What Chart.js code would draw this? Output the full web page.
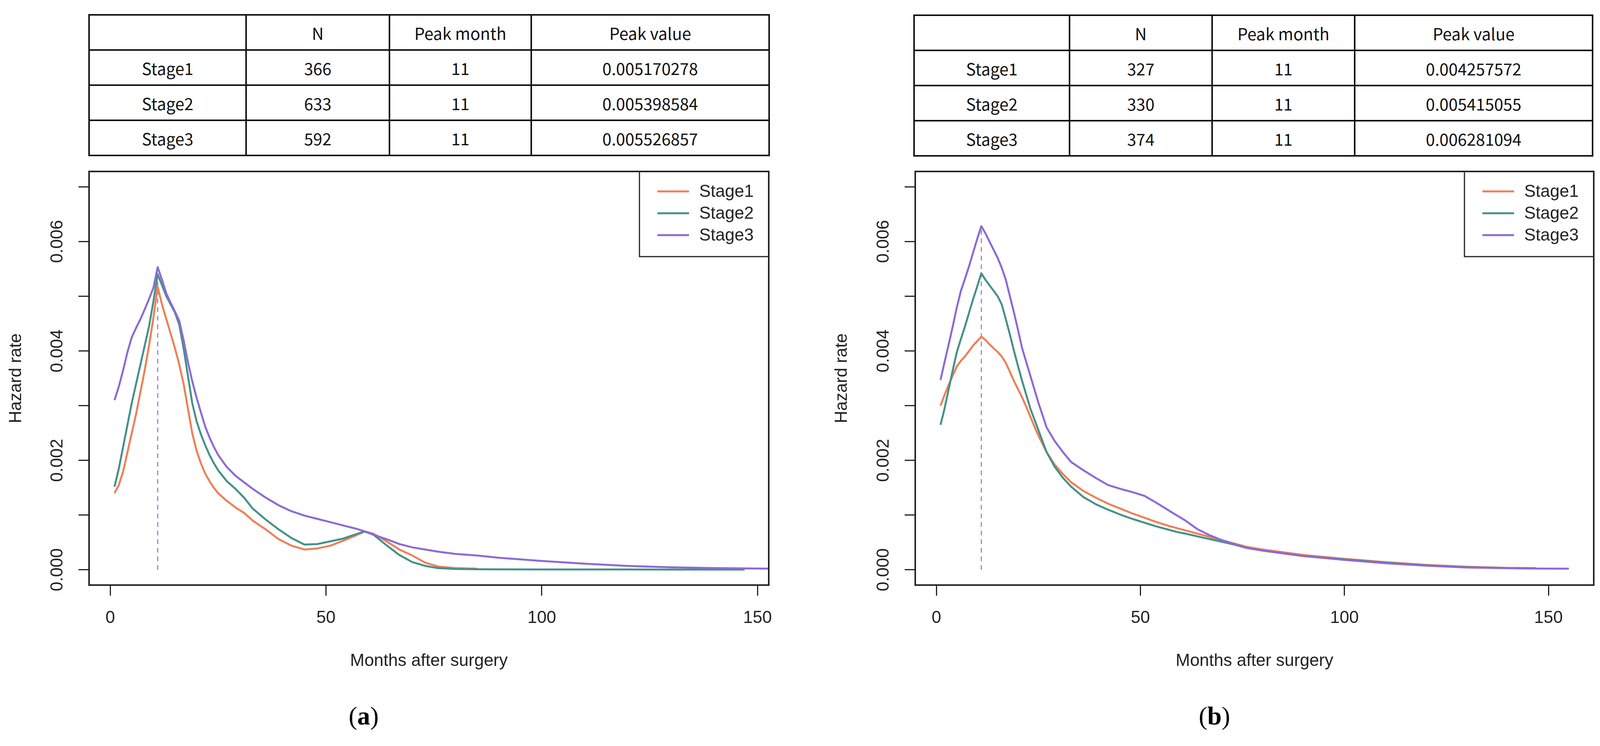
<!DOCTYPE html>
<html>
<head>
<meta charset="utf-8">
<script src="https://cdn.jsdelivr.net/npm/chart.js@4.4.1/dist/chart.umd.min.js"></script>
<style>
  body { margin: 0; background: #fff; width: 4115px; height: 1910px; position: relative; overflow: hidden; }
  .tbl { position: absolute; display: grid; gap: 4px; padding: 4px; background: #111; }
  .tbl div { background: #fff; display: flex; align-items: center; justify-content: center;
             font-family: "Noto Sans CJK KR", "Noto Sans"; font-size: 42px; color: #111; }
  canvas { position: absolute; }
  .cap { position: absolute; font-family: "Liberation Serif"; font-size: 66px; transform: translateX(-50%); }
</style>
</head>
<body>
<div id="tblA" class="tbl"></div>
<div id="tblB" class="tbl"></div>
<canvas id="chartA" width="2058" height="1400"></canvas>
<canvas id="chartB" width="2057" height="1400"></canvas>
<div class="cap" style="left:931px; top:1795px;">(<b>a</b>)</div>
<div class="cap" style="left:3109px; top:1795px;">(<b>b</b>)</div>

<script>
// ---- table data ----
const stageNames = ['Stage1', 'Stage2', 'Stage3'];
const tableHeader = ['', 'N', 'Peak month', 'Peak value'];
const nA = [366, 633, 592];
const peakMonthA = [11, 11, 11];
const peakValueA = [0.005170278, 0.005398584, 0.005526857];
const nB = [327, 330, 374];
const peakMonthB = [11, 11, 11];
const peakValueB = [0.004257572, 0.005415055, 0.006281094];

// ---- hazard curves, panel (a) ----
const monthsA = [1,2,3,4,5,6,7,8,9,10,11,12,13,14,15,16,17,18,19,20,21,22,23,24,25,27,29,31,33,36,39,42,45,48,51,54,57,59,61,64,67,70,73,76,80,85,90,100,110,120,130,140,147,153];
const stage1A = [0.00140,0.00155,0.00180,0.00215,0.00250,0.00285,0.00325,0.00365,0.00410,0.00460,0.00517,0.00485,0.00458,0.00432,0.00405,0.00375,0.00340,0.00295,0.00250,0.00218,0.00195,0.00176,0.00162,0.00150,0.00140,0.00126,0.00114,0.00104,0.00090,0.00074,0.00056,0.00044,0.00037,0.00039,0.00044,0.00053,0.00063,0.00070,0.00066,0.00052,0.00037,0.00026,0.00013,0.00006,0.00003,0.00002,null,null,null,null,null,null,null,null];
const stage2A = [0.00152,0.00185,0.00225,0.00265,0.00305,0.00340,0.00375,0.00410,0.00445,0.00490,0.00540,0.00520,0.00500,0.00485,0.00470,0.00448,0.00405,0.00355,0.00305,0.00272,0.00248,0.00228,0.00210,0.00195,0.00182,0.00162,0.00148,0.00132,0.00112,0.00092,0.00074,0.00058,0.00046,0.00047,0.00052,0.00057,0.00065,0.00070,0.00064,0.00045,0.00027,0.00014,0.00007,0.00003,0.000015,0.00001,0.000008,0.000006,0.000005,0.000005,0.000004,0.000004,0.000004,null];
const stage3A = [0.00310,0.00335,0.00365,0.00398,0.00425,0.00442,0.00458,0.00476,0.00495,0.00515,0.00553,0.00530,0.00505,0.00488,0.00472,0.00455,0.00420,0.00380,0.00345,0.00315,0.00288,0.00262,0.00242,0.00225,0.00210,0.00188,0.00172,0.00160,0.00148,0.00132,0.00118,0.00107,0.00099,0.00093,0.00087,0.00081,0.00075,0.00070,0.00064,0.00056,0.00047,0.00041,0.00037,0.00033,0.00029,0.00026,0.00022,0.00016,0.00011,0.00007,0.000045,0.00003,0.000025,0.00002];

// ---- hazard curves, panel (b) ----
const monthsB = [1,2,3,4,5,6,7,8,9,10,11,12,13,14,15,16,17,18,19,20,21,22,23,24,25,27,29,31,33,36,39,42,45,48,51,54,57,59,61,64,67,70,73,76,80,85,90,100,110,120,130,140,147,155];
const stage1B = [0.00300,0.00320,0.00338,0.00355,0.00372,0.00382,0.00390,0.00400,0.00410,0.00418,0.00426,0.00420,0.00412,0.00405,0.00398,0.00390,0.00378,0.00362,0.00345,0.00330,0.00315,0.00298,0.00280,0.00262,0.00245,0.00215,0.00192,0.00175,0.00160,0.00144,0.00132,0.00121,0.00112,0.00103,0.00095,0.00087,0.00080,0.00076,0.00072,0.00066,0.00060,0.00054,0.00048,0.00042,0.00037,0.00032,0.00027,0.00020,0.00014,0.00009,0.000055,0.000035,0.00003,null];
const stage2B = [0.00265,0.00295,0.00330,0.00365,0.00398,0.00422,0.00445,0.00470,0.00495,0.00518,0.00542,0.00530,0.00520,0.00510,0.00500,0.00485,0.00458,0.00430,0.00400,0.00372,0.00345,0.00320,0.00295,0.00275,0.00255,0.00215,0.00188,0.00168,0.00152,0.00133,0.00120,0.00110,0.00101,0.00093,0.00086,0.00079,0.00073,0.00069,0.00066,0.00061,0.00056,0.00051,0.00046,0.00040,0.00035,0.00030,0.00025,0.00019,0.00013,0.00008,0.000046,0.00003,0.000025,null];
const stage3B = [0.00347,0.00380,0.00412,0.00445,0.00480,0.00510,0.00532,0.00555,0.00580,0.00605,0.00628,0.00615,0.00600,0.00585,0.00570,0.00552,0.00530,0.00500,0.00470,0.00438,0.00405,0.00380,0.00355,0.00330,0.00305,0.00260,0.00235,0.00215,0.00197,0.00182,0.00168,0.00155,0.00148,0.00142,0.00135,0.00122,0.00108,0.00099,0.00090,0.00074,0.00063,0.00054,0.00047,0.00040,0.00035,0.00030,0.00025,0.00018,0.00012,0.000075,0.000042,0.000028,0.000022,0.00002];

const stageColors = ['#EF7F55', '#45918A', '#8B6BD6'];
const yTicks = [0, 0.002, 0.004, 0.006];

function buildTable(id, left, top, colW, ns, months, peaks) {
  const el = document.getElementById(id);
  el.style.left = left + 'px';
  el.style.top = top + 'px';
  el.style.gridTemplateColumns = colW.map(w => w + 'px').join(' ');
  el.style.gridTemplateRows = 'repeat(4, 86px)';
  const rows = [tableHeader].concat(stageNames.map((s, i) => [s, ns[i], months[i], peaks[i].toFixed(9)]));
  rows.forEach(r => r.forEach(c => {
    const d = document.createElement('div');
    d.textContent = c;
    el.appendChild(d);
  }));
}
buildTable('tblA', 226, 36, [398, 363, 359, 605], nA, peakMonthA, peakValueA);
buildTable('tblB', 2338, 37, [394, 361, 361, 605], nB, peakMonthB, peakValueB);

const rPlot = {
  id: 'rPlot',
  afterDraw(chart) {
    const {ctx, chartArea: a} = chart;
    const ys = chart.scales.y;
    ctx.save();
    ctx.strokeStyle = '#222';
    ctx.lineWidth = 4;
    ctx.strokeRect(a.left, a.top, a.right - a.left, a.bottom - a.top);

    // y tick labels, rotated like R
    ctx.font = '44px "Liberation Sans"';
    ctx.fillStyle = '#222';
    ctx.textAlign = 'center';
    ctx.textBaseline = 'middle';
    yTicks.forEach(v => {
      ctx.save();
      ctx.translate(a.left - 80, ys.getPixelForValue(v));
      ctx.rotate(-Math.PI / 2);
      ctx.fillText(v.toFixed(3), 0, 0);
      ctx.restore();
    });

    // legend box
    const bx = a.right - 331, by = a.top;
    ctx.lineWidth = 3;
    ctx.strokeRect(bx, by, 331, 218);
    ctx.textAlign = 'left';
    stageNames.forEach((s, i) => {
      const ly = by + 51 + i * 56;
      ctx.strokeStyle = stageColors[i];
      ctx.lineWidth = 5;
      ctx.beginPath();
      ctx.moveTo(bx + 46, ly);
      ctx.lineTo(bx + 127, ly);
      ctx.stroke();
      ctx.fillStyle = '#222';
      ctx.fillText(s, bx + 153, ly + 2);
    });
    ctx.restore();
  }
};

function makeChart(id, months, series, peaks, peakMonths, xMax, padding, yWidth) {
  const toPts = vals => months.map((m, i) => ({x: m, y: vals[i]})).filter(p => p.y !== null);
  const datasets = series.map((vals, i) => ({
    label: stageNames[i],
    data: toPts(vals),
    borderColor: stageColors[i],
    borderWidth: 5,
    pointRadius: 0,
    tension: 0,
    borderJoinStyle: 'round',
    order: 3 - i
  }));
  datasets.push({
    label: 'peak',
    data: [{x: peakMonths[0], y: 0}, {x: peakMonths[0], y: Math.max(...peaks)}],
    borderColor: '#9588D2',
    borderWidth: 3,
    borderDash: [12, 10],
    pointRadius: 0,
    order: 5
  });

  const tickFont = {family: 'Liberation Sans', size: 44};
  new Chart(document.getElementById(id), {
    type: 'line',
    data: {datasets},
    plugins: [rPlot],
    options: {
      responsive: false,
      animation: false,
      devicePixelRatio: 1,
      layout: {padding},
      plugins: {legend: {display: false}, tooltip: {enabled: false}},
      scales: {
        x: {
          type: 'linear',
          min: xMax[0], max: xMax[1],
          border: {display: false},
          grid: {drawOnChartArea: false, tickLength: 27, tickWidth: 3, tickColor: '#222'},
          ticks: {stepSize: 50, includeBounds: false, autoSkip: false, maxRotation: 0,
                  padding: 31, color: '#222', font: tickFont},
          title: {display: true, text: 'Months after surgery', color: '#222', font: tickFont,
                  padding: {top: 0, bottom: 0}},
          afterFit: s => { s.height = 221; }
        },
        y: {
          type: 'linear',
          min: -0.00028, max: 0.00728,
          border: {display: false},
          grid: {drawOnChartArea: false, tickLength: 27, tickWidth: 3, tickColor: '#222'},
          ticks: {stepSize: 0.001, includeBounds: false, autoSkip: false, callback: () => ''},
          title: {display: true, text: 'Hazard rate', color: '#222', font: tickFont,
                  padding: {top: 15, bottom: 0}},
          afterFit: s => { s.width = yWidth; }
        }
      }
    }
  });
}

document.getElementById('chartA').style.cssText = 'left:0px; top:400px;';
document.getElementById('chartB').style.cssText = 'left:2058px; top:400px;';

makeChart('chartA', monthsA, [stage1A, stage2A, stage3A], peakValueA, peakMonthA,
  [-4.9, 152.6], {left: 0, top: 39, right: 90, bottom: 81}, 228);
makeChart('chartB', monthsB, [stage1B, stage2B, stage3B], peakValueB, peakMonthB,
  [-5.2, 161.1], {left: 56, top: 39, right: 35, bottom: 81}, 229);
</script>
</body>
</html>
